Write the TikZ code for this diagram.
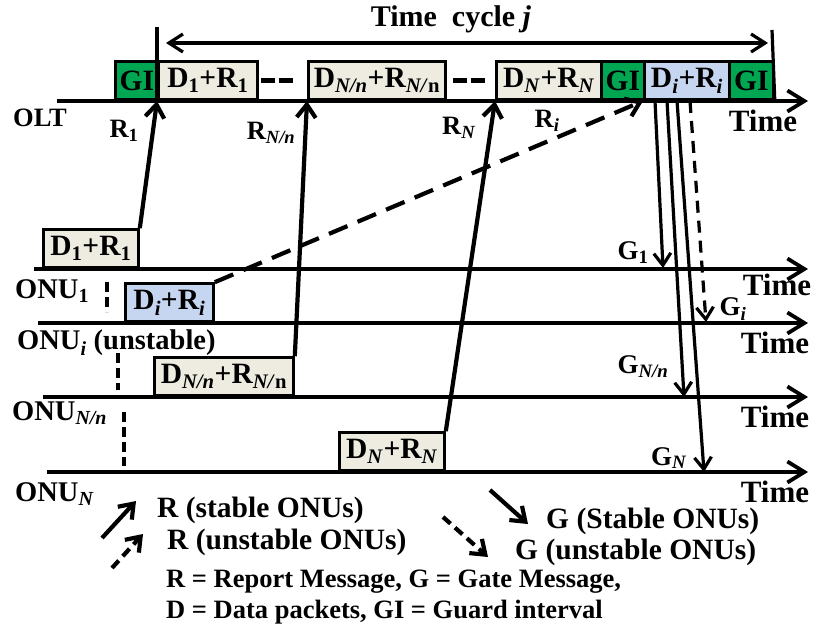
\documentclass[tikz,border=0pt]{standalone}
\usepackage{fontspec}
\setmainfont{Liberation Serif}
\usetikzlibrary{arrows.meta}
\definecolor{gigreen}{RGB}{0,166,81}
\definecolor{slotbeige}{RGB}{238,236,225}
\definecolor{slotblue}{RGB}{198,214,240}
\newcommand{\sbs}[1]{\textsubscript{#1}}
\begin{document}
\begin{tikzpicture}[x=1pt,y=-1pt,
  axis/.style={line width=3.8pt,-{Straight Barb[length=17pt,width=21pt]}},
  msg/.style={line width=4.2pt,-{Straight Barb[length=13pt,width=19pt]}},
  gmsg/.style={line width=3.2pt,-{Straight Barb[length=12pt,width=17pt]}},
  dmsg/.style={msg,dash pattern=on 20pt off 11pt},
  dgmsg/.style={gmsg,dash pattern=on 12pt off 8pt},
  vdash/.style={line width=4pt,dash pattern=on 10pt off 5pt},
  slot/.style={draw,line width=2.8pt,minimum height=38pt,inner sep=0pt,anchor=south west,
    font=\bfseries\fontsize{29.5}{30}\selectfont},
  lbl/.style={inner sep=0pt,font=\bfseries\fontsize{28.5}{30}\selectfont},
  timel/.style={inner sep=0pt,font=\bfseries\fontsize{31}{32}\selectfont},
  leg/.style={inner sep=0pt,anchor=west,font=\bfseries\fontsize{29.5}{31}\selectfont},
  legs/.style={inner sep=0pt,anchor=west,font=\bfseries\fontsize{26.5}{28}\selectfont}]
\useasboundingbox (0,0) rectangle (818,629);

% ---------- OLT slots ----------
\node[slot,fill=gigreen,minimum width=43pt] (gi1) at (114,101) {GI};
\node[slot,fill=slotbeige,minimum width=99pt] (b1) at (157,101) {D\sbs{1}+R\sbs{1}};
\node[slot,fill=slotbeige,minimum width=137pt] (bNn) at (307,101) {D\sbs{\textit{N/n}}+R\sbs{\textit{N/}n}};
\node[slot,fill=slotbeige,minimum width=105pt] (bN) at (495,101) {D\sbs{\textit{N}}+R\sbs{\textit{N}}};
\node[slot,fill=gigreen,minimum width=43pt] (gi2) at (600,101) {GI};
\node[slot,fill=slotblue,minimum width=85pt] (bi) at (643,101) {D\sbs{\textit{i}}+R\sbs{\textit{i}}};
\node[slot,fill=gigreen,minimum width=44pt] (gi3) at (728,101) {GI};

% dashes between slots
\coordinate (d1a) at (261,80); \coordinate (d1b) at (275,80);
\coordinate (d1c) at (279,80); \coordinate (d1d) at (293,80);
\coordinate (d2a) at (453,80); \coordinate (d2b) at (467,80);
\coordinate (d2c) at (471,80); \coordinate (d2d) at (485,80);
\draw[line width=5pt] (d1a) -- (d1b) (d1c) -- (d1d) (d2a) -- (d2b) (d2c) -- (d2d);

% cycle markers
\coordinate (vl1t) at (157,27); \coordinate (vl2t) at (772,30);
\draw[line width=3.2pt] (vl1t) -- (b1.south west);
\draw[line width=3.2pt] (vl2t) -- (gi3.south east);
\coordinate (cycL) at (158,43); \coordinate (cycR) at (771,43);
\draw[line width=3.2pt,{Straight Barb[length=14pt,width=18pt]}-{Straight Barb[length=14pt,width=18pt]},shorten <=8pt,shorten >=3pt] (cycL) -- (cycR);
\node[inner sep=0pt,anchor=base,font=\bfseries\fontsize{30}{32}\selectfont] (title) at (451,26) {Time\ \ cycle \textit{j}};

% ---------- time lines ----------
\coordinate (oltS) at (57,101);  \coordinate (oltE) at (808,101);
\coordinate (on1S) at (34,269);  \coordinate (on1E) at (808,269);
\coordinate (oniS) at (38,323);  \coordinate (oniE) at (808,323);
\coordinate (onnS) at (43,397);  \coordinate (onnE) at (808,397);
\coordinate (onNS) at (47,472);  \coordinate (onNE) at (808,472);

% ONU slots
\node[slot,fill=slotbeige,minimum width=95pt] (u1) at (42,269) {D\sbs{1}+R\sbs{1}};
\node[slot,fill=slotblue,minimum width=88pt] (ui) at (124,323) {D\sbs{\textit{i}}+R\sbs{\textit{i}}};
\node[slot,fill=slotbeige,minimum width=139pt] (un) at (153,397) {D\sbs{\textit{N/n}}+R\sbs{\textit{N/}n}};
\node[slot,fill=slotbeige,minimum width=105pt] (uN) at (338,472) {D\sbs{\textit{N}}+R\sbs{\textit{N}}};

\draw[axis] (oltS) -- (oltE);
\draw[axis] (on1S) -- (on1E);
\draw[axis] (oniS) -- (oniE);
\draw[axis] (onnS) -- (onnE);
\draw[axis] (onNS) -- (onNE);

% labels of lines
\node[lbl,font=\bfseries\fontsize{26.5}{28}\selectfont] (lolt) at (40,118) {OLT};
\node[lbl,anchor=west] (lon1) at (15,291) {ONU\sbs{1}};
\node[lbl,anchor=west] (loni) at (17,343) {ONU\sbs{\textit{i}} (unstable)};
\node[lbl,anchor=west] (lonn) at (12,413) {ONU\sbs{\textit{N/n}}};
\node[lbl,anchor=west] (lonN) at (15,494) {ONU\sbs{\textit{N}}};

\node[timel] (t0) at (763,121) {Time};
\node[timel] (t1) at (777,285) {Time};
\node[timel] (t2) at (775,343) {Time};
\node[timel] (t3) at (775,417) {Time};
\node[timel] (t4) at (775,492) {Time};

% vertical dashes between ONUs
\coordinate (vd1a) at (107,282); \coordinate (vd1b) at (107,312);
\coordinate (vd2a) at (118,353); \coordinate (vd2b) at (118,390);
\coordinate (vd3a) at (124,412); \coordinate (vd3b) at (124,466);
\draw[vdash] (vd1a) -- (vd1b);
\draw[vdash] (vd2a) -- (vd2b);
\draw[vdash] (vd3a) -- (vd3b);

% ---------- report messages ----------
\draw[msg] (u1.north east) -- (b1.south west);
\draw[msg] (un.north east) -- (bNn.south west);
\draw[msg] (uN.north east) -- (bN.south west);
\draw[dmsg] (ui.north east) -- (bi.south west);
\node[lbl,font=\bfseries\fontsize{26.5}{28}\selectfont] (lr1) at (124,131) {R\sbs{1}};
\node[lbl,font=\bfseries\fontsize{26.5}{28}\selectfont] (lrn) at (271,133) {R\sbs{\textit{N/n}}};
\node[lbl,font=\bfseries\fontsize{26.5}{28}\selectfont] (lrN) at (459,128) {R\sbs{\textit{N}}};
\node[lbl,font=\bfseries\fontsize{26.5}{28}\selectfont] (lri) at (547,121) {R\sbs{\textit{i}}};

% ---------- gate messages ----------
\coordinate (g1s) at (655,101); \coordinate (g1e) at (663,268);
\coordinate (gns) at (667,101); \coordinate (gne) at (684,397);
\coordinate (gNs) at (677,101); \coordinate (gNe) at (704,472);
\coordinate (gis) at (690,101); \coordinate (gie) at (706,322);
\draw[gmsg] (g1s) -- (g1e);
\draw[gmsg] (gns) -- (gne);
\draw[gmsg] (gNs) -- (gNe);
\draw[dgmsg] (gis) -- (gie);
\node[lbl,font=\bfseries\fontsize{27}{28}\selectfont] (lg1) at (633,253) {G\sbs{1}};
\node[lbl,font=\bfseries\fontsize{27}{28}\selectfont] (lgn) at (643,367) {G\sbs{\textit{N/n}}};
\node[lbl,font=\bfseries\fontsize{27}{28}\selectfont] (lgN) at (669,458) {G\sbs{\textit{N}}};
\node[lbl,font=\bfseries\fontsize{27}{28}\selectfont] (lgi) at (733,309) {G\sbs{\textit{i}}};

% ---------- legend ----------
\coordinate (lr1s) at (102,538); \coordinate (lr1e) at (136,501);
\coordinate (lr2s) at (112,568); \coordinate (lr2e) at (143,534);
\coordinate (lg1s) at (490,490); \coordinate (lg1e) at (528,524);
\coordinate (lg2s) at (443,517); \coordinate (lg2e) at (488,557);
\draw[msg] (lr1s) -- (lr1e);
\draw[msg,dash pattern=on 10pt off 6pt] (lr2s) -- (lr2e);
\draw[msg] (lg1s) -- (lg1e);
\draw[msg,dash pattern=on 10pt off 6pt] (lg2s) -- (lg2e);
\node[leg] (tr1) at (157,510) {R (stable ONUs)};
\node[leg] (tr2) at (167,542) {R (unstable ONUs)};
\node[leg] (tg1) at (546,521) {G (Stable ONUs)};
\node[leg] (tg2) at (515,552) {G (unstable ONUs)};
\node[legs] (def1) at (166,582) {R = Report Message, G = Gate Message,};
\node[legs] (def2) at (166,612) {D = Data packets, GI = Guard interval};
\end{tikzpicture}
\end{document}
